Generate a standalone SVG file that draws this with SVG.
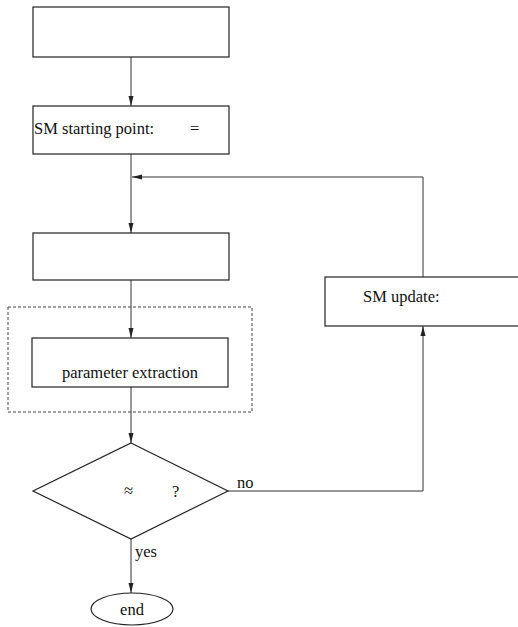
<svg xmlns="http://www.w3.org/2000/svg" width="518" height="627" viewBox="0 0 518 627">
  <style>
    .shape { fill: #fff; stroke: #222; stroke-width: 1.2; }
    .dash { fill: none; stroke: #444; stroke-width: 1; stroke-dasharray: 3 2; }
    .wire { fill: none; stroke: #333; stroke-width: 1; }
    text { font-family: "Liberation Serif", "Times New Roman", serif; font-size: 16.5px; fill: #111; }
  </style>
  <defs>
    <marker id="arrow" viewBox="0 0 10 6" refX="10" refY="3" markerWidth="10" markerHeight="6" markerUnits="userSpaceOnUse" orient="auto">
      <path d="M0,0.5 L10,3 L0,5.5 Z" fill="#222"/>
    </marker>
  </defs>

  <rect width="518" height="627" fill="#fff"/>

  <!-- processing loop frame -->
  <rect class="dash" x="8" y="307" width="244" height="105"/>

  <g id="connectors">
    <line class="wire" x1="131" y1="57" x2="131" y2="106" marker-end="url(#arrow)"/>
    <line class="wire" x1="131" y1="154" x2="131" y2="233" marker-end="url(#arrow)"/>
    <line class="wire" x1="131" y1="280" x2="131" y2="338" marker-end="url(#arrow)"/>
    <line class="wire" x1="131" y1="387" x2="131" y2="443" marker-end="url(#arrow)"/>
    <line class="wire" x1="131" y1="539" x2="131" y2="593" marker-end="url(#arrow)"/>
    <polyline class="wire" points="228,491 423,491 423,326" marker-end="url(#arrow)"/>
    <polyline class="wire" points="423,277 423,177 132,177" marker-end="url(#arrow)"/>
    <text x="237" y="488">no</text>
    <text x="135" y="557">yes</text>
  </g>

  <g id="init">
    <rect class="shape" x="33" y="7" width="196" height="50"/>
  </g>

  <g id="start">
    <rect class="shape" x="33" y="106" width="196" height="48"/>
    <text x="34" y="134">SM starting point:</text>
    <text x="190" y="134">=</text>
  </g>

  <g id="evaluate">
    <rect class="shape" x="33" y="233" width="196" height="47"/>
  </g>

  <g id="extraction">
    <rect class="shape" x="32" y="338" width="196" height="49"/>
    <text x="130" y="378" text-anchor="middle">parameter extraction</text>
  </g>

  <g id="check">
    <polygon class="shape" points="131,443 228,491 131,539 33,491"/>
    <text x="124" y="496">≈</text>
    <text x="172" y="497">?</text>
  </g>

  <g id="update">
    <rect class="shape" x="325" y="277" width="200" height="49"/>
    <text x="363" y="302">SM update:</text>
  </g>

  <g id="end">
    <ellipse class="shape" cx="132" cy="609" rx="41" ry="16"/>
    <text x="132" y="615" text-anchor="middle">end</text>
  </g>
</svg>
